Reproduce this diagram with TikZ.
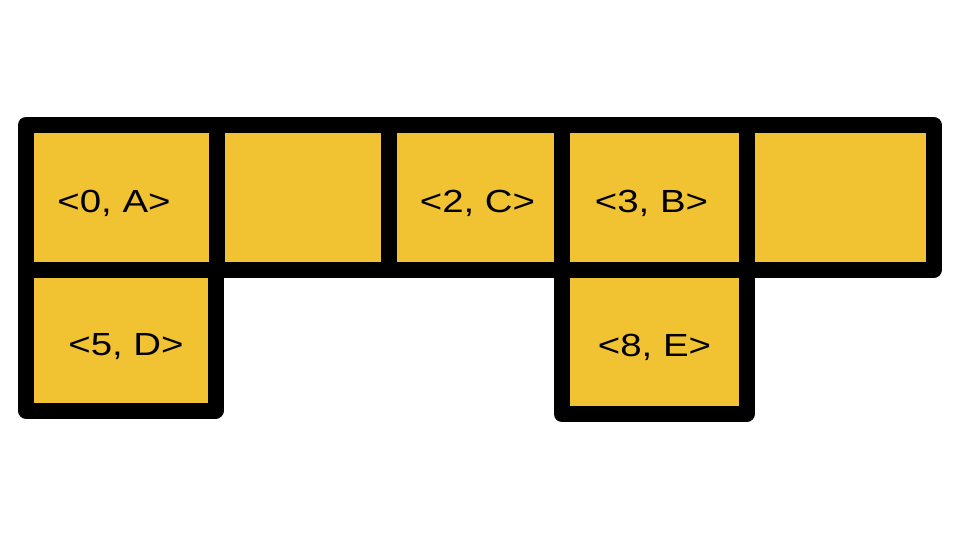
\documentclass[tikz,border=0pt]{standalone}
\usepackage{fontspec}
\setmainfont{Liberation Sans}
\definecolor{cellyellow}{HTML}{F1C232}
\begin{document}
\begin{tikzpicture}[x=1pt,y=-1pt,
  cell/.style={fill=cellyellow,draw=black,line width=16pt,line join=round},
  lbl/.style={anchor=base,inner sep=0pt,font=\fontsize{32}{38}\selectfont}]
\useasboundingbox (0,0) rectangle (960,540);
% top row
\path[cell] (26,125) rectangle (217,270) coordinate (c0);
\path[cell] (217,125) rectangle (388.5,270) coordinate (c1);
\path[cell] (388.5,125) rectangle (562,270) coordinate (c2);
\path[cell] (562,125) rectangle (746.5,270) coordinate (c3);
\path[cell] (746.5,125) rectangle (933.5,270) coordinate (c4);
% bottom row
\path[cell] (26,270) rectangle (215.5,410.5) coordinate (c5);
\path[cell] (562,270) rectangle (746.5,414) coordinate (c8);
% labels
\node[lbl] (lA) at (114,212.5) {\scalebox{1.2}[1]{<0, A>}};
\node[lbl] (lC) at (477.5,212.5) {\scalebox{1.2}[1]{<2, C>}};
\node[lbl] (lB) at (651.5,212.5) {\scalebox{1.2}[1]{<3, B>}};
\node[lbl] (lD) at (126,355) {\scalebox{1.2}[1]{<5, D>}};
\node[lbl] (lE) at (654.5,356) {\scalebox{1.2}[1]{<8, E>}};
\end{tikzpicture}
\end{document}
